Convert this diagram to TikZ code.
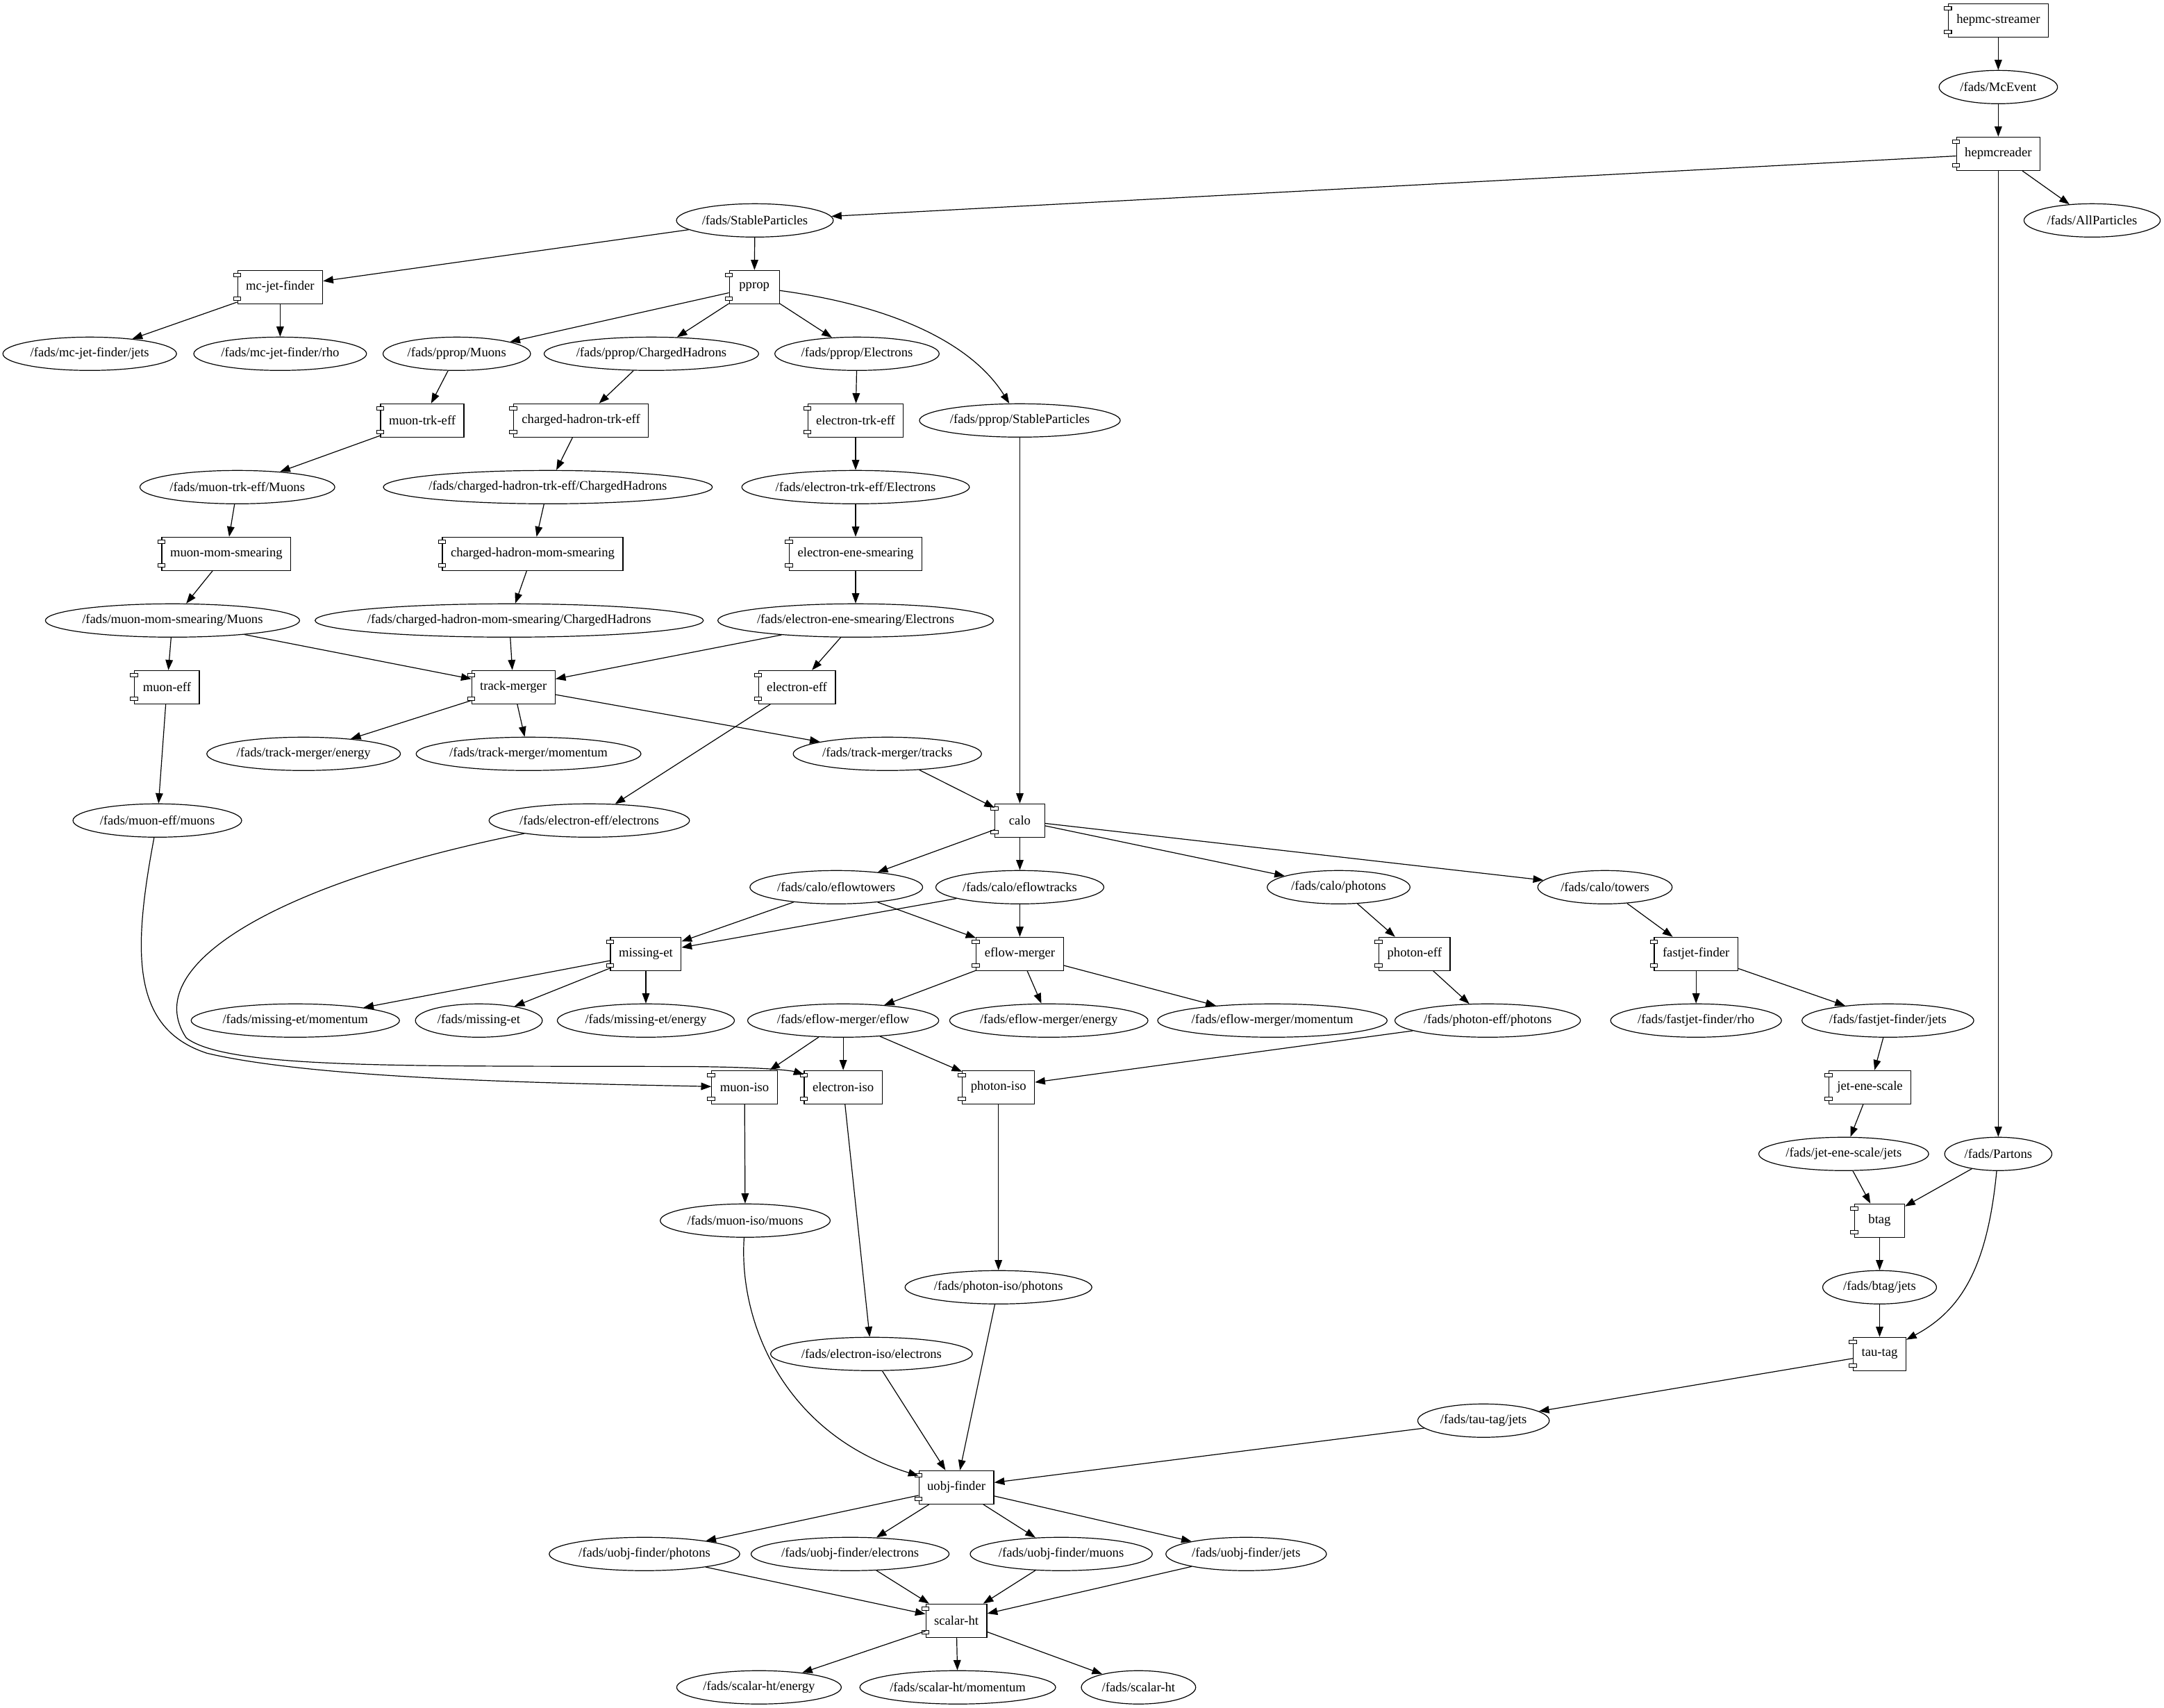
\documentclass[tikz,border=0pt]{standalone}
\usepackage{fontspec}
\setmainfont{Liberation Serif}
\usetikzlibrary{arrows.meta,shapes.geometric}
\tikzset{
  every node/.style={font=\fontsize{14pt}{16pt}\selectfont},
  compbox/.style={draw, line width=0.9pt, rectangle, minimum width=54pt, minimum height=36pt, inner xsep=9pt, inner ysep=0pt, fill=white},
  tabbox/.style={draw, line width=0.8pt, fill=white},
  dataobj/.style={draw, line width=0.9pt, ellipse, inner sep=0pt, minimum height=36pt},
  edge/.style={draw, line width=0.9pt, -{Triangle[length=11pt,width=8pt]}},
}
\newcommand\compnode[3]{%
  \node[compbox] (#1) at (#2) {#3};
  \draw[tabbox] ([xshift=-4pt,yshift=-3.75pt]#1.north west) rectangle ++(8pt,-3.75pt);
  \draw[tabbox] ([xshift=-4pt,yshift=3.75pt]#1.south west) rectangle ++(8pt,3.75pt);
}
\newcommand\datanode[3]{%
  \node[dataobj] (#1) at (#2) {\makebox[\dimexpr 0.9192\width+14.7pt\relax]{#3}};
}
\begin{document}
\begin{tikzpicture}[x=1.4904pt, y=-72pt]
\useasboundingbox (0,-0.30556) rectangle (1568.1,25.309);
\compnode{hs}{1448,0}{hepmc-streamer}
\datanode{mcevent}{1448,1}{/fads/McEvent}
\compnode{hrd}{1448,2}{hepmcreader}
\datanode{stable}{547,3}{/fads/StableParticles}
\datanode{allp}{1516,3}{/fads/AllParticles}
\compnode{mcjet}{203,4}{mc-jet-finder}
\compnode{pprop}{546.6,4}{pprop}
\datanode{mcjets}{65,5}{/fads/mc-jet-finder/jets}
\datanode{mcrho}{203,5}{/fads/mc-jet-finder/rho}
\datanode{pmuons}{331,5}{/fads/pprop/Muons}
\datanode{pch}{472,5}{/fads/pprop/ChargedHadrons}
\datanode{pel}{621,5}{/fads/pprop/Electrons}
\compnode{mutrk}{306,6}{muon-trk-eff}
\compnode{chtrk}{421,6}{charged-hadron-trk-eff}
\compnode{eltrk}{620,6}{electron-trk-eff}
\datanode{pstable}{739,6}{/fads/pprop/StableParticles}
\datanode{mutrkM}{172,7}{/fads/muon-trk-eff/Muons}
\datanode{chtrkC}{397,7}{/fads/charged-hadron-trk-eff/ChargedHadrons}
\datanode{eltrkE}{620,7}{/fads/electron-trk-eff/Electrons}
\compnode{mumom}{164,8}{muon-mom-smearing}
\compnode{chmom}{386,8}{charged-hadron-mom-smearing}
\compnode{elene}{620,8}{electron-ene-smearing}
\datanode{mumomM}{125,9}{/fads/muon-mom-smearing/Muons}
\datanode{chmomC}{369,9}{/fads/charged-hadron-mom-smearing/ChargedHadrons}
\datanode{eleneE}{620,9}{/fads/electron-ene-smearing/Electrons}
\compnode{mueff}{121,10}{muon-eff}
\compnode{tm}{372,10}{track-merger}
\compnode{eleff}{577.5,10}{electron-eff}
\datanode{tmE}{220,11}{/fads/track-merger/energy}
\datanode{tmM}{383,11}{/fads/track-merger/momentum}
\datanode{tmT}{643,11}{/fads/track-merger/tracks}
\datanode{mueffM}{114,12}{/fads/muon-eff/muons}
\datanode{eleffE}{427,12}{/fads/electron-eff/electrons}
\compnode{calo}{739,12}{calo}
\datanode{eft}{606,13}{/fads/calo/eflowtowers}
\datanode{eftr}{739,13}{/fads/calo/eflowtracks}
\datanode{cph}{970,13}{/fads/calo/photons}
\datanode{ctow}{1163,13}{/fads/calo/towers}
\compnode{met}{468,14}{missing-et}
\compnode{efm}{739,14}{eflow-merger}
\compnode{pheff}{1025,14}{photon-eff}
\compnode{fjf}{1229,14}{fastjet-finder}
\datanode{metM}{214,15}{/fads/missing-et/momentum}
\datanode{metS}{347,15}{/fads/missing-et}
\datanode{metE}{468,15}{/fads/missing-et/energy}
\datanode{efmF}{611,15}{/fads/eflow-merger/eflow}
\datanode{efmE}{760,15}{/fads/eflow-merger/energy}
\datanode{efmM}{922,15}{/fads/eflow-merger/momentum}
\datanode{pheffP}{1078,15}{/fads/photon-eff/photons}
\datanode{fjfR}{1229,15}{/fads/fastjet-finder/rho}
\datanode{fjfJ}{1368,15}{/fads/fastjet-finder/jets}
\compnode{muiso}{539.5,16}{muon-iso}
\compnode{eliso}{611,16}{electron-iso}
\compnode{phiso}{723.5,16}{photon-iso}
\compnode{jes}{1355,16}{jet-ene-scale}
\datanode{jesJ}{1336,17}{/fads/jet-ene-scale/jets}
\datanode{partons}{1448,17}{/fads/Partons}
\datanode{muisoM}{540,18}{/fads/muon-iso/muons}
\compnode{btag}{1362,18}{btag}
\datanode{phisoP}{723.5,19}{/fads/photon-iso/photons}
\datanode{btagJ}{1362,19}{/fads/btag/jets}
\datanode{elisoE}{631.5,20}{/fads/electron-iso/electrons}
\compnode{tau}{1362,20}{tau-tag}
\datanode{tauJ}{1075,21}{/fads/tau-tag/jets}
\compnode{uobj}{693,22}{uobj-finder}
\datanode{uoP}{467,23}{/fads/uobj-finder/photons}
\datanode{uoE}{616,23}{/fads/uobj-finder/electrons}
\datanode{uoM}{769,23}{/fads/uobj-finder/muons}
\datanode{uoJ}{903,23}{/fads/uobj-finder/jets}
\compnode{sht}{693,24}{scalar-ht}
\datanode{shtE}{550,25}{/fads/scalar-ht/energy}
\datanode{shtM}{694,25}{/fads/scalar-ht/momentum}
\datanode{shtS}{825,25}{/fads/scalar-ht}
% edges
\draw[edge] (hs) -- (mcevent);
\draw[edge] (mcevent) -- (hrd);
\draw[edge] (hrd) -- (stable);
\draw[edge] (hrd) -- (allp);
\draw[edge] (hrd) -- (partons);
\draw[edge] (stable) -- (mcjet);
\draw[edge] (stable) -- (pprop);
\draw[edge] (mcjet) -- (mcjets);
\draw[edge] (mcjet) -- (mcrho);
\draw[edge] (pprop) -- (pmuons);
\draw[edge] (pprop) -- (pch);
\draw[edge] (pprop) -- (pel);
\draw[edge] (pprop) .. controls (650,4.29) and (705,4.87) .. (pstable);
\draw[edge] (pmuons) -- (mutrk);
\draw[edge] (pch) -- (chtrk);
\draw[edge] (pel) -- (eltrk);
\draw[edge] (mutrk) -- (mutrkM);
\draw[edge] (chtrk) -- (chtrkC);
\draw[edge] (eltrk) -- (eltrkE);
\draw[edge] (mutrkM) -- (mumom);
\draw[edge] (chtrkC) -- (chmom);
\draw[edge] (eltrkE) -- (elene);
\draw[edge] (mumom) -- (mumomM);
\draw[edge] (chmom) -- (chmomC);
\draw[edge] (elene) -- (eleneE);
\draw[edge] (mumomM) -- (mueff);
\draw[edge] (mumomM) -- (tm);
\draw[edge] (chmomC) -- (tm);
\draw[edge] (eleneE) -- (tm);
\draw[edge] (eleneE) -- (eleff);
\draw[edge] (tm) -- (tmE);
\draw[edge] (tm) -- (tmM);
\draw[edge] (tm) -- (tmT);
\draw[edge] (mueff) -- (mueffM);
\draw[edge] (eleff) -- (eleffE);
\draw[edge] (pstable) -- (calo);
\draw[edge] (tmT) -- (calo);
\draw[edge] (calo) -- (eft);
\draw[edge] (calo) -- (eftr);
\draw[edge] (calo) -- (cph);
\draw[edge] (calo) -- (ctow);
\draw[edge] (eft) -- (met);
\draw[edge] (eft) -- (efm);
\draw[edge] (eftr) -- (met);
\draw[edge] (eftr) -- (efm);
\draw[edge] (cph) -- (pheff);
\draw[edge] (ctow) -- (fjf);
\draw[edge] (met) -- (metM);
\draw[edge] (met) -- (metS);
\draw[edge] (met) -- (metE);
\draw[edge] (efm) -- (efmF);
\draw[edge] (efm) -- (efmE);
\draw[edge] (efm) -- (efmM);
\draw[edge] (pheff) -- (pheffP);
\draw[edge] (fjf) -- (fjfR);
\draw[edge] (fjf) -- (fjfJ);
\draw[edge] (efmF) -- (muiso);
\draw[edge] (efmF) -- (eliso);
\draw[edge] (efmF) -- (phiso);
\draw[edge] (pheffP) -- (phiso);
\draw[edge] (mueffM) .. controls (96,13.98) and (95,15.12) .. (150,15.49) .. controls (230,15.88) and (400,15.94) .. (muiso);
\draw[edge] (eleffE) .. controls (200,12.94) and (100,14.18) .. (135,15.26) .. controls (165,15.74) and (300,15.675) .. (500,15.69) .. controls (560,15.70) and (575,15.76) .. (eliso);
\draw[edge] (fjfJ) -- (jes);
\draw[edge] (jes) -- (jesJ);
\draw[edge] (jesJ) -- (btag);
\draw[edge] (partons) -- (btag);
\draw[edge] (partons) .. controls (1440,18.74) and (1420,19.36) .. (tau);
\draw[edge] (btag) -- (btagJ);
\draw[edge] (btagJ) -- (tau);
\draw[edge] (tau) -- (tauJ);
\draw[edge] (tauJ) -- (uobj);
\draw[edge] (muiso) -- (muisoM);
\draw[edge] (eliso) -- (elisoE);
\draw[edge] (phiso) -- (phisoP);
\draw[edge] (muisoM) .. controls (535,19.57) and (570,21.22) .. (uobj);
\draw[edge] (elisoE) -- (uobj);
\draw[edge] (phisoP) -- (uobj);
\draw[edge] (uobj) -- (uoP);
\draw[edge] (uobj) -- (uoE);
\draw[edge] (uobj) -- (uoM);
\draw[edge] (uobj) -- (uoJ);
\draw[edge] (uoP) -- (sht);
\draw[edge] (uoE) -- (sht);
\draw[edge] (uoM) -- (sht);
\draw[edge] (uoJ) -- (sht);
\draw[edge] (sht) -- (shtE);
\draw[edge] (sht) -- (shtM);
\draw[edge] (sht) -- (shtS);
\end{tikzpicture}
\end{document}
